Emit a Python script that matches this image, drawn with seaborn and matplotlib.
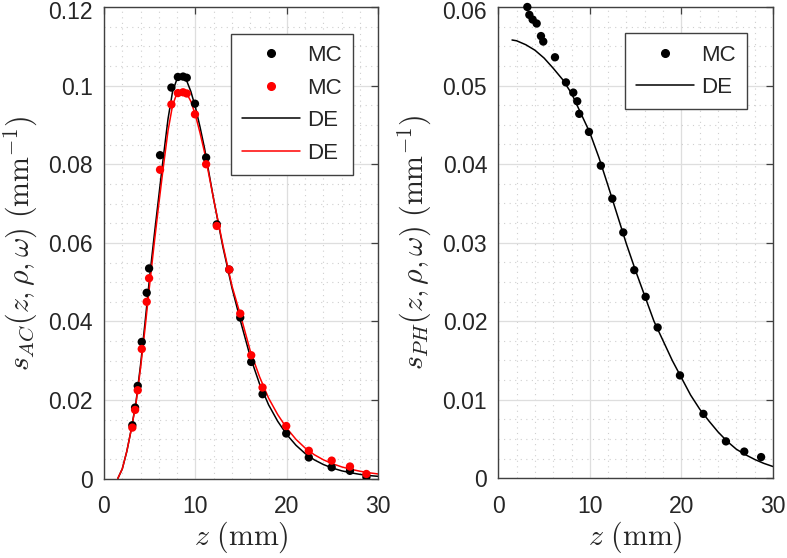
"""
Recreate the two-panel MC vs DE profile figure (s_AC and s_PH along z).
"""
import numpy as np
import pandas as pd
import matplotlib
matplotlib.use("Agg")
import matplotlib.pyplot as plt
import matplotlib.transforms as mtransforms
from matplotlib.ticker import MultipleLocator, FuncFormatter
from matplotlib.lines import Line2D
import seaborn as sns

# ---- left panel: s_AC, MC points (black / red) ----
mc_ac_z = [3.1, 3.4, 3.69, 4.13, 4.67, 4.93, 6.13, 7.37, 8.08, 8.65, 9.05, 9.95,
           11.17, 12.34, 13.7, 14.9, 16.1, 17.34, 19.93, 22.4, 24.9, 26.9, 28.7]
mc_ac_black = [0.0136, 0.0181, 0.0236, 0.0348, 0.0473, 0.0535, 0.0823, 0.0995,
               0.1022, 0.1023, 0.1020, 0.0954, 0.0817, 0.0647, 0.0532, 0.0410,
               0.0297, 0.0215, 0.0115, 0.0054, 0.0029, 0.0020, 0.0004]
mc_ac_red = [0.0130, 0.0175, 0.0225, 0.0330, 0.0450, 0.0510, 0.0786, 0.0952,
             0.0981, 0.0983, 0.0980, 0.0927, 0.0800, 0.0643, 0.0532, 0.0420,
             0.0314, 0.0232, 0.0134, 0.0071, 0.0046, 0.0031, 0.0012]

# ---- left panel: s_AC, DE curves ----
de_ac_z = [1.5, 2, 2.5, 3, 3.5, 4, 4.5, 5, 5.5, 6, 6.5, 7, 7.5, 8, 8.5, 9, 9.5,
           10, 10.5, 11, 11.5, 12, 13, 14, 15, 16, 17, 18, 19, 20, 21, 22, 23,
           24, 25, 26, 27, 28, 29, 30]
de_ac_black = [0.0, 0.0025, 0.0070, 0.0128, 0.0195, 0.0290, 0.0400, 0.0515,
               0.0620, 0.0720, 0.0820, 0.0915, 0.0985, 0.1018, 0.1025, 0.1015,
               0.0985, 0.0945, 0.0895, 0.0840, 0.0775, 0.0710, 0.0590, 0.0485,
               0.0395, 0.0310, 0.0242, 0.0188, 0.0146, 0.0112, 0.0085, 0.0064,
               0.0048, 0.0036, 0.0027, 0.0020, 0.0015, 0.0011, 0.0008, 0.0006]
de_ac_red = [0.0, 0.0025, 0.0070, 0.0127, 0.0192, 0.0282, 0.0385, 0.0495,
             0.0600, 0.0700, 0.0795, 0.0885, 0.0950, 0.0982, 0.0990, 0.0982,
             0.0960, 0.0925, 0.0880, 0.0830, 0.0770, 0.0710, 0.0595, 0.0490,
             0.0410, 0.0325, 0.0260, 0.0205, 0.0163, 0.0128, 0.0100, 0.0078,
             0.0061, 0.0048, 0.0038, 0.0030, 0.0024, 0.0019, 0.0015, 0.0012]

# ---- right panel: s_PH ----
mc_ph_z = [3.17, 3.39, 3.75, 4.19, 4.66, 4.91, 6.19, 7.39, 8.19, 8.62, 8.84,
           9.9, 11.2, 12.45, 13.65, 14.85, 16.09, 17.4, 19.84, 22.4, 24.86,
           26.86, 28.7]
mc_ph = [0.0600, 0.0590, 0.0584, 0.0579, 0.0563, 0.0556, 0.0536, 0.0504,
         0.0491, 0.0480, 0.0464, 0.0441, 0.0398, 0.0356, 0.0313, 0.0265,
         0.0231, 0.0192, 0.0131, 0.0082, 0.0047, 0.0034, 0.0027]
de_ph_z = [1.5, 2, 3, 4, 5, 6, 7, 8, 9, 10, 11, 12, 13, 14, 15, 16, 17, 18, 19,
           20, 21, 22, 23, 24, 25, 26, 27, 28, 29, 30]
de_ph = [0.0558, 0.0557, 0.0552, 0.0545, 0.0535, 0.0522, 0.0508, 0.0490,
         0.0465, 0.0440, 0.0408, 0.0372, 0.0335, 0.0298, 0.0264, 0.0232,
         0.0200, 0.0175, 0.0150, 0.0128, 0.0106, 0.0088, 0.0073, 0.0059,
         0.0047, 0.0037, 0.0030, 0.0024, 0.0019, 0.0015]

AX_COLOR = "#404040"
TEXT_COLOR = "#262626"
GRID_COLOR = "#dedede"
TICK_FS = 16.5
LABEL_FS = 21.5
LEG_FS = 16

sns.set_theme(style="white")
plt.rcParams["font.family"] = ["Liberation Sans", "DejaVu Sans"]
plt.rcParams["mathtext.fontset"] = "cm"


def fmt(v, pos):
    return f"{v:g}"


def style_axes(ax, ymax, ymajor, yminor):
    ax.set_xlim(0, 30)
    ax.set_ylim(0, ymax)
    ax.xaxis.set_major_locator(MultipleLocator(10))
    ax.xaxis.set_minor_locator(MultipleLocator(2))
    ax.yaxis.set_major_locator(MultipleLocator(ymajor))
    ax.yaxis.set_minor_locator(MultipleLocator(yminor))
    ax.yaxis.set_major_formatter(FuncFormatter(fmt))
    ax.grid(True, which="major", color=GRID_COLOR, linewidth=0.9, linestyle="-")
    ax.grid(True, which="minor", color="#cfcfcf", linewidth=0.8, linestyle=(0, (1, 4)))
    ax.set_axisbelow(True)
    ax.tick_params(which="major", direction="in", length=5, width=0.9,
                   top=True, right=True, colors=AX_COLOR, labelsize=TICK_FS,
                   labelcolor=TEXT_COLOR)
    ax.tick_params(axis="x", which="major", pad=12)
    ax.tick_params(axis="y", which="major", pad=8)
    ax.tick_params(which="minor", length=0)
    for sp in ax.spines.values():
        sp.set_color(AX_COLOR)
        sp.set_linewidth(1.0)
    ax.set_xlabel(r"$z\ (\mathrm{mm})$", fontsize=LABEL_FS, color=TEXT_COLOR,
                  labelpad=1)


def add_legend(ax, handles, labels, anchor):
    leg = ax.legend(handles, labels, loc="upper right", bbox_to_anchor=anchor,
                    borderaxespad=0, fontsize=LEG_FS, handlelength=2.6,
                    handletextpad=0.35, labelspacing=0.52, borderpad=0.5,
                    fancybox=False, framealpha=1, edgecolor=AX_COLOR)
    leg.get_frame().set_linewidth(1.0)
    return leg


def nudge_top_label(fig, ax):
    # keep the topmost y tick label inside the canvas
    fig.canvas.draw()
    top = ax.yaxis.get_major_ticks()[-1]
    for t in ax.yaxis.get_major_ticks():
        if abs(t.get_loc() - ax.get_ylim()[1]) < 1e-9:
            top = t
    off = mtransforms.ScaledTranslation(0, -3 / 100, fig.dpi_scale_trans)
    top.label1.set_transform(top.label1.get_transform() + off)


fig = plt.figure(figsize=(7.87, 5.58), dpi=100)
W, H = 787, 558
ax1 = fig.add_axes([104 / W, (H - 478.7) / H, 274.3 / W, 471.7 / H])
ax2 = fig.add_axes([498.3 / W, (H - 478.3) / H, 274.7 / W, 471.3 / H])

# left panel
df_ac = pd.DataFrame({"z": mc_ac_z, "black": mc_ac_black, "red": mc_ac_red})
de_ac = pd.DataFrame({"z": de_ac_z, "black": de_ac_black, "red": de_ac_red})
sns.lineplot(data=de_ac, x="z", y="black", color="black", linewidth=1.1, ax=ax1)
sns.lineplot(data=de_ac, x="z", y="red", color="red", linewidth=1.1, ax=ax1)
sns.scatterplot(data=df_ac, x="z", y="black", color="black", s=36,
                edgecolor="none", ax=ax1, zorder=3)
sns.scatterplot(data=df_ac, x="z", y="red", color="red", s=36,
                edgecolor="none", ax=ax1, zorder=4)
style_axes(ax1, 0.12, 0.02, 0.005)
ax1.set_ylabel(r"$s_{AC}(z,\rho,\omega)\ (\mathrm{mm}^{-1})$", fontsize=LABEL_FS,
               color=TEXT_COLOR, labelpad=6)

h1 = [Line2D([], [], ls="none", marker="o", ms=5.5, color="black"),
      Line2D([], [], ls="none", marker="o", ms=5.5, color="red"),
      Line2D([], [], color="black", lw=1.1),
      Line2D([], [], color="red", lw=1.1)]
add_legend(ax1, h1, ["MC", "MC", "DE", "DE"], (0.908, 0.943))

# right panel
df_ph = pd.DataFrame({"z": mc_ph_z, "v": mc_ph})
de_ph_df = pd.DataFrame({"z": de_ph_z, "v": de_ph})
sns.lineplot(data=de_ph_df, x="z", y="v", color="black", linewidth=1.1, ax=ax2)
sns.scatterplot(data=df_ph, x="z", y="v", color="black", s=36,
                edgecolor="none", ax=ax2, zorder=3, clip_on=False)
style_axes(ax2, 0.06, 0.01, 0.0025)
ax2.set_ylabel(r"$s_{PH}(z,\rho,\omega)\ (\mathrm{mm}^{-1})$", fontsize=LABEL_FS,
               color=TEXT_COLOR, labelpad=6)

h2 = [Line2D([], [], ls="none", marker="o", ms=5.5, color="black"),
      Line2D([], [], color="black", lw=1.1)]
add_legend(ax2, h2, ["MC", "DE"], (0.906, 0.944))

nudge_top_label(fig, ax1)
nudge_top_label(fig, ax2)

fig.savefig("out.png", dpi=100)
